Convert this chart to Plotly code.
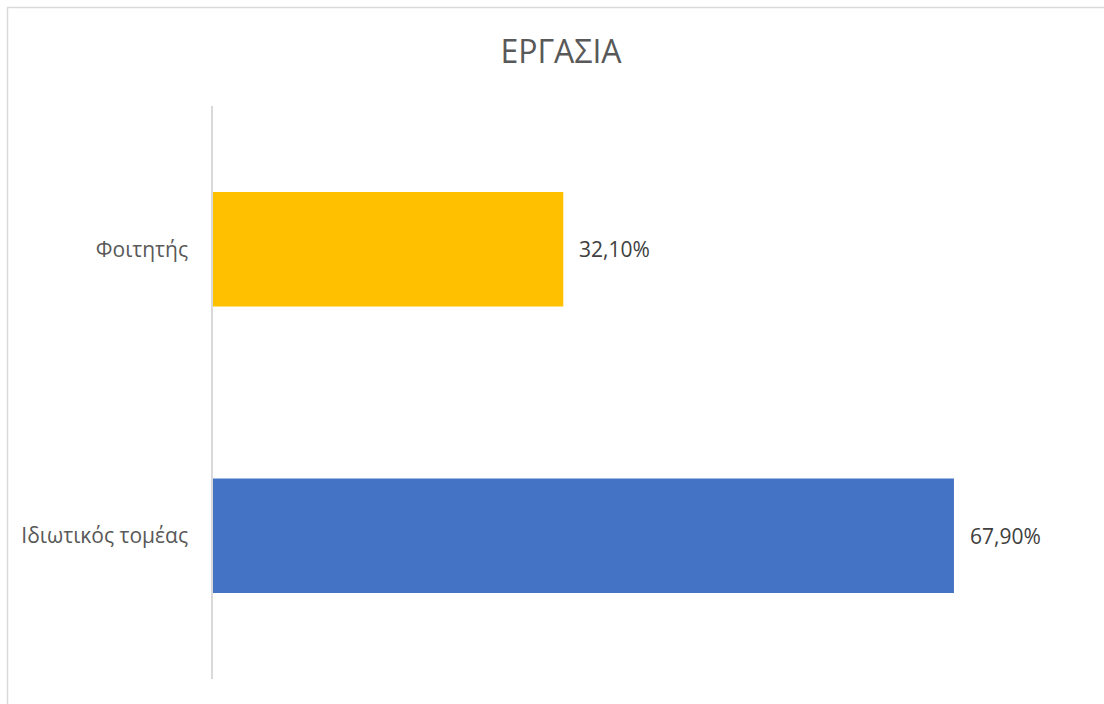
import plotly.graph_objects as go

# Employment status shares (fractions), bottom to top
categories = ["Ιδιωτικός τομέας", "Φοιτητής"]
shares = [0.679, 0.321]
bar_colors = ["#4472C4", "#FFC000"]
chart_title = "ΕΡΓΑΣΙΑ"

W, H = 1104, 704
left, right, top, bottom = 213, 18, 106, 25
plot_w = W - left - right
plot_h = H - top - bottom
FONT = "Open Sans, Noto Sans, sans-serif"

fig = go.Figure(
    go.Bar(
        x=shares,
        y=categories,
        orientation="h",
        width=0.4,
        marker=dict(color=bar_colors, line=dict(width=0)),
        hoverinfo="skip",
    )
)

# value labels placed just right of each bar end
for cat, val in zip(categories, shares):
    label = f"{val * 100:.2f}%".replace(".", ",")
    fig.add_annotation(
        x=val, y=cat, xref="x", yref="y",
        text=label, showarrow=False,
        xanchor="left", yanchor="middle", xshift=14,
        font=dict(family=FONT, size=21, color="#404040"),
    )

# light frame around the whole chart
fig.add_shape(
    type="rect", xref="paper", yref="paper",
    x0=(7.5 - left) / plot_w, x1=1.1,
    y0=-0.2, y1=1 + (top - 7.5) / plot_h,
    line=dict(color="#D9D9D9", width=1.5),
    fillcolor="rgba(0,0,0,0)", layer="below",
)

fig.update_layout(
    width=W, height=H,
    margin=dict(l=left, r=right, t=top, b=bottom, autoexpand=False),
    paper_bgcolor="white", plot_bgcolor="white",
    showlegend=False,
    title=dict(
        text=chart_title, x=561 / W, xanchor="center",
        y=1 - 52 / H, yanchor="middle",
        font=dict(family=FONT, size=32, color="#595959"),
    ),
    xaxis=dict(range=[0, 0.8], visible=False, showgrid=False, zeroline=False),
    yaxis=dict(
        showline=True, linecolor="#D9D9D9", linewidth=1.5,
        showgrid=False, zeroline=False, ticks="",
        ticklabelstandoff=19,
        tickfont=dict(family=FONT, size=21, color="#595959"),
    ),
)

fig.write_html("out.html")
